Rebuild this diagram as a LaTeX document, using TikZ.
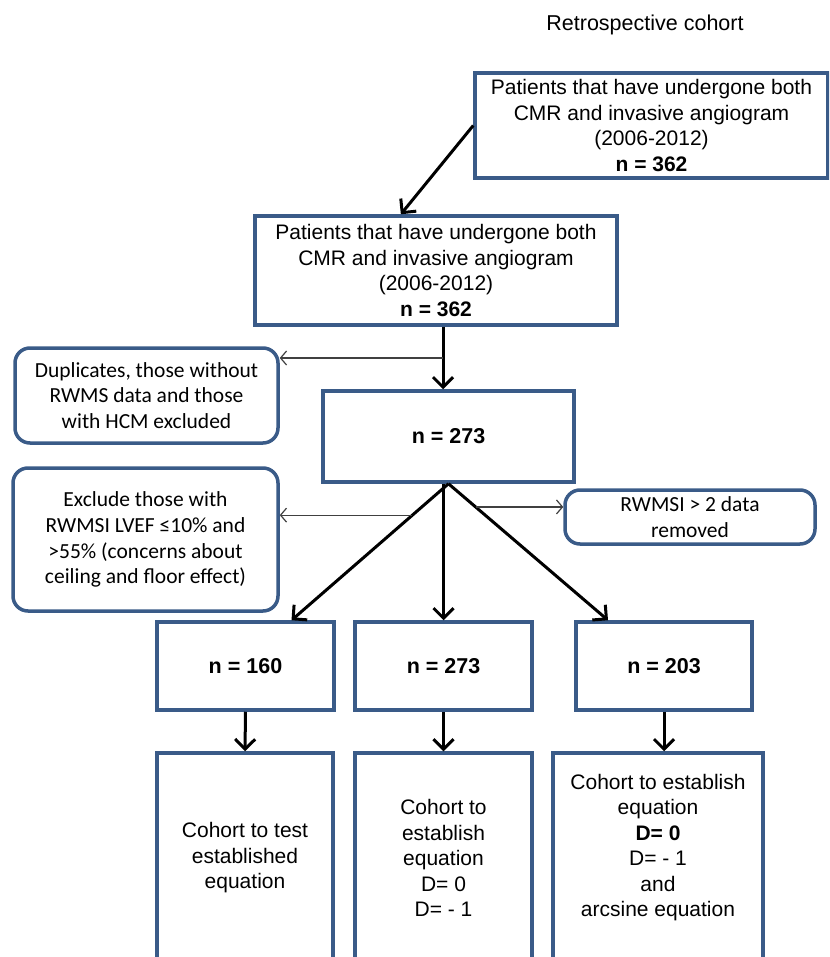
\documentclass[tikz,border=0pt]{standalone}
\usepackage{fontspec}
\setmainfont{Liberation Sans}
\newfontfamily\calib{Carlito}
\usetikzlibrary{arrows.meta,calc}
\definecolor{boxblue}{RGB}{58,91,136}
\newcommand\fs{\fontsize{21}{25.5}\selectfont}
\newcommand\nfs{\fontsize{21.5}{25.5}\selectfont}
\newcommand\cfs{\calib\fontsize{21.5}{25.8}\selectfont}
\tikzset{
  sqbox/.style={draw=boxblue, line width=3.5pt, inner sep=0pt, align=center, font=\fs},
  rbox/.style={draw=boxblue, line width=3.5pt, rounded corners=15pt, inner sep=0pt, align=center, font=\cfs},
  bigarrow/.style={line width=3pt, -{Straight Barb[length=10pt,width=20pt]}},
  thinarrow/.style={line width=1.2pt, draw=black!75, -{Straight Barb[length=6pt,width=14pt]}},
}
\begin{document}
\begin{tikzpicture}[x=1pt,y=-1pt]
\useasboundingbox (0,0) rectangle (829,957);
\clip (0,0) rectangle (829,957);
\fill[white] (0,0) rectangle (829,957);

\node[font=\nfs] (title) at (645,25) {Retrospective cohort};

\node[sqbox, minimum width=353pt, minimum height=105pt] (top) at (651.5,125.5)
  {Patients that have undergone both\\CMR and invasive angiogram\\(2006-2012)\\\textbf{n = 362}};
\node[sqbox, minimum width=362pt, minimum height=109pt] (second) at (436,270.5)
  {Patients that have undergone both\\CMR and invasive angiogram\\(2006-2012)\\\textbf{n = 362}};
\node[rbox, minimum width=263pt, minimum height=95pt] (dup) at (146.5,395.5)
  {Duplicates, those without\\RWMS data and those\\with HCM excluded};
\node[sqbox, minimum width=251pt, minimum height=91pt, font=\nfs] (n273) at (448.5,436.5)
  {\textbf{n = 273}};
\node[rbox, minimum width=265pt, minimum height=143pt] (excl) at (145.5,539.5)
  {Exclude those with\\RWMSI LVEF ≤10\% and\\>55\% (concerns about\\ceiling and floor effect)};
\node[rbox, minimum width=250pt, minimum height=54pt] (rw) at (690,517)
  {RWMSI > 2 data\\removed};

\node[sqbox, minimum width=177pt, minimum height=88pt, font=\nfs] (n160) at (245.5,666) {\textbf{n = 160}};
\node[sqbox, minimum width=177pt, minimum height=88pt, font=\nfs] (n273b) at (443.5,666) {\textbf{n = 273}};
\node[sqbox, minimum width=176pt, minimum height=88pt, font=\nfs] (n203) at (664,666) {\textbf{n = 203}};

\node[sqbox, minimum width=176pt, minimum height=210pt] (low1) at (245,858)
  {Cohort to test\\established\\equation};
\node[sqbox, minimum width=177pt, minimum height=210pt] (low2) at (443.5,858)
  {Cohort to\\establish\\equation\\D= 0\\D= - 1};
\node[sqbox, minimum width=210pt, minimum height=210pt] (low3) at (658,858)
  {Cohort to establish\\equation\\\textbf{D= 0}\\D= - 1\\and\\arcsine equation\\\mbox{}};

% connectors
\draw[bigarrow] (top.west) -- (second.122);
\coordinate (vx) at (443,0);
\draw[bigarrow] (second.south -| vx) -- (n273.north -| vx);
\coordinate (j1) at (443,358);
\draw[thinarrow] (j1) -- (j1 -| dup.east);

\coordinate (e1) at ([xshift=46pt]n160.north);
\coordinate (e3) at ([xshift=-56pt]n203.north);
\draw[bigarrow] (n273.south) -- (e1);
\draw[bigarrow] (n273.south -| n273b.north) -- (n273b.north);
\draw[bigarrow] (n273.south) -- (e3);

\coordinate (j2) at ($(n273.south)!0.23!(e1)$);
\draw[thinarrow] (j2) -- (j2 -| excl.east);
\coordinate (j3) at ($(n273.south)!0.17!(e3)$);
\draw[thinarrow] (j3) -- (j3 -| rw.west);

\draw[bigarrow] (n160.south) -- (low1.north);
\draw[bigarrow] (n273b.south) -- (low2.north);
\draw[bigarrow] (n203.south) -- (n203.south |- low3.north);
\end{tikzpicture}
\end{document}
